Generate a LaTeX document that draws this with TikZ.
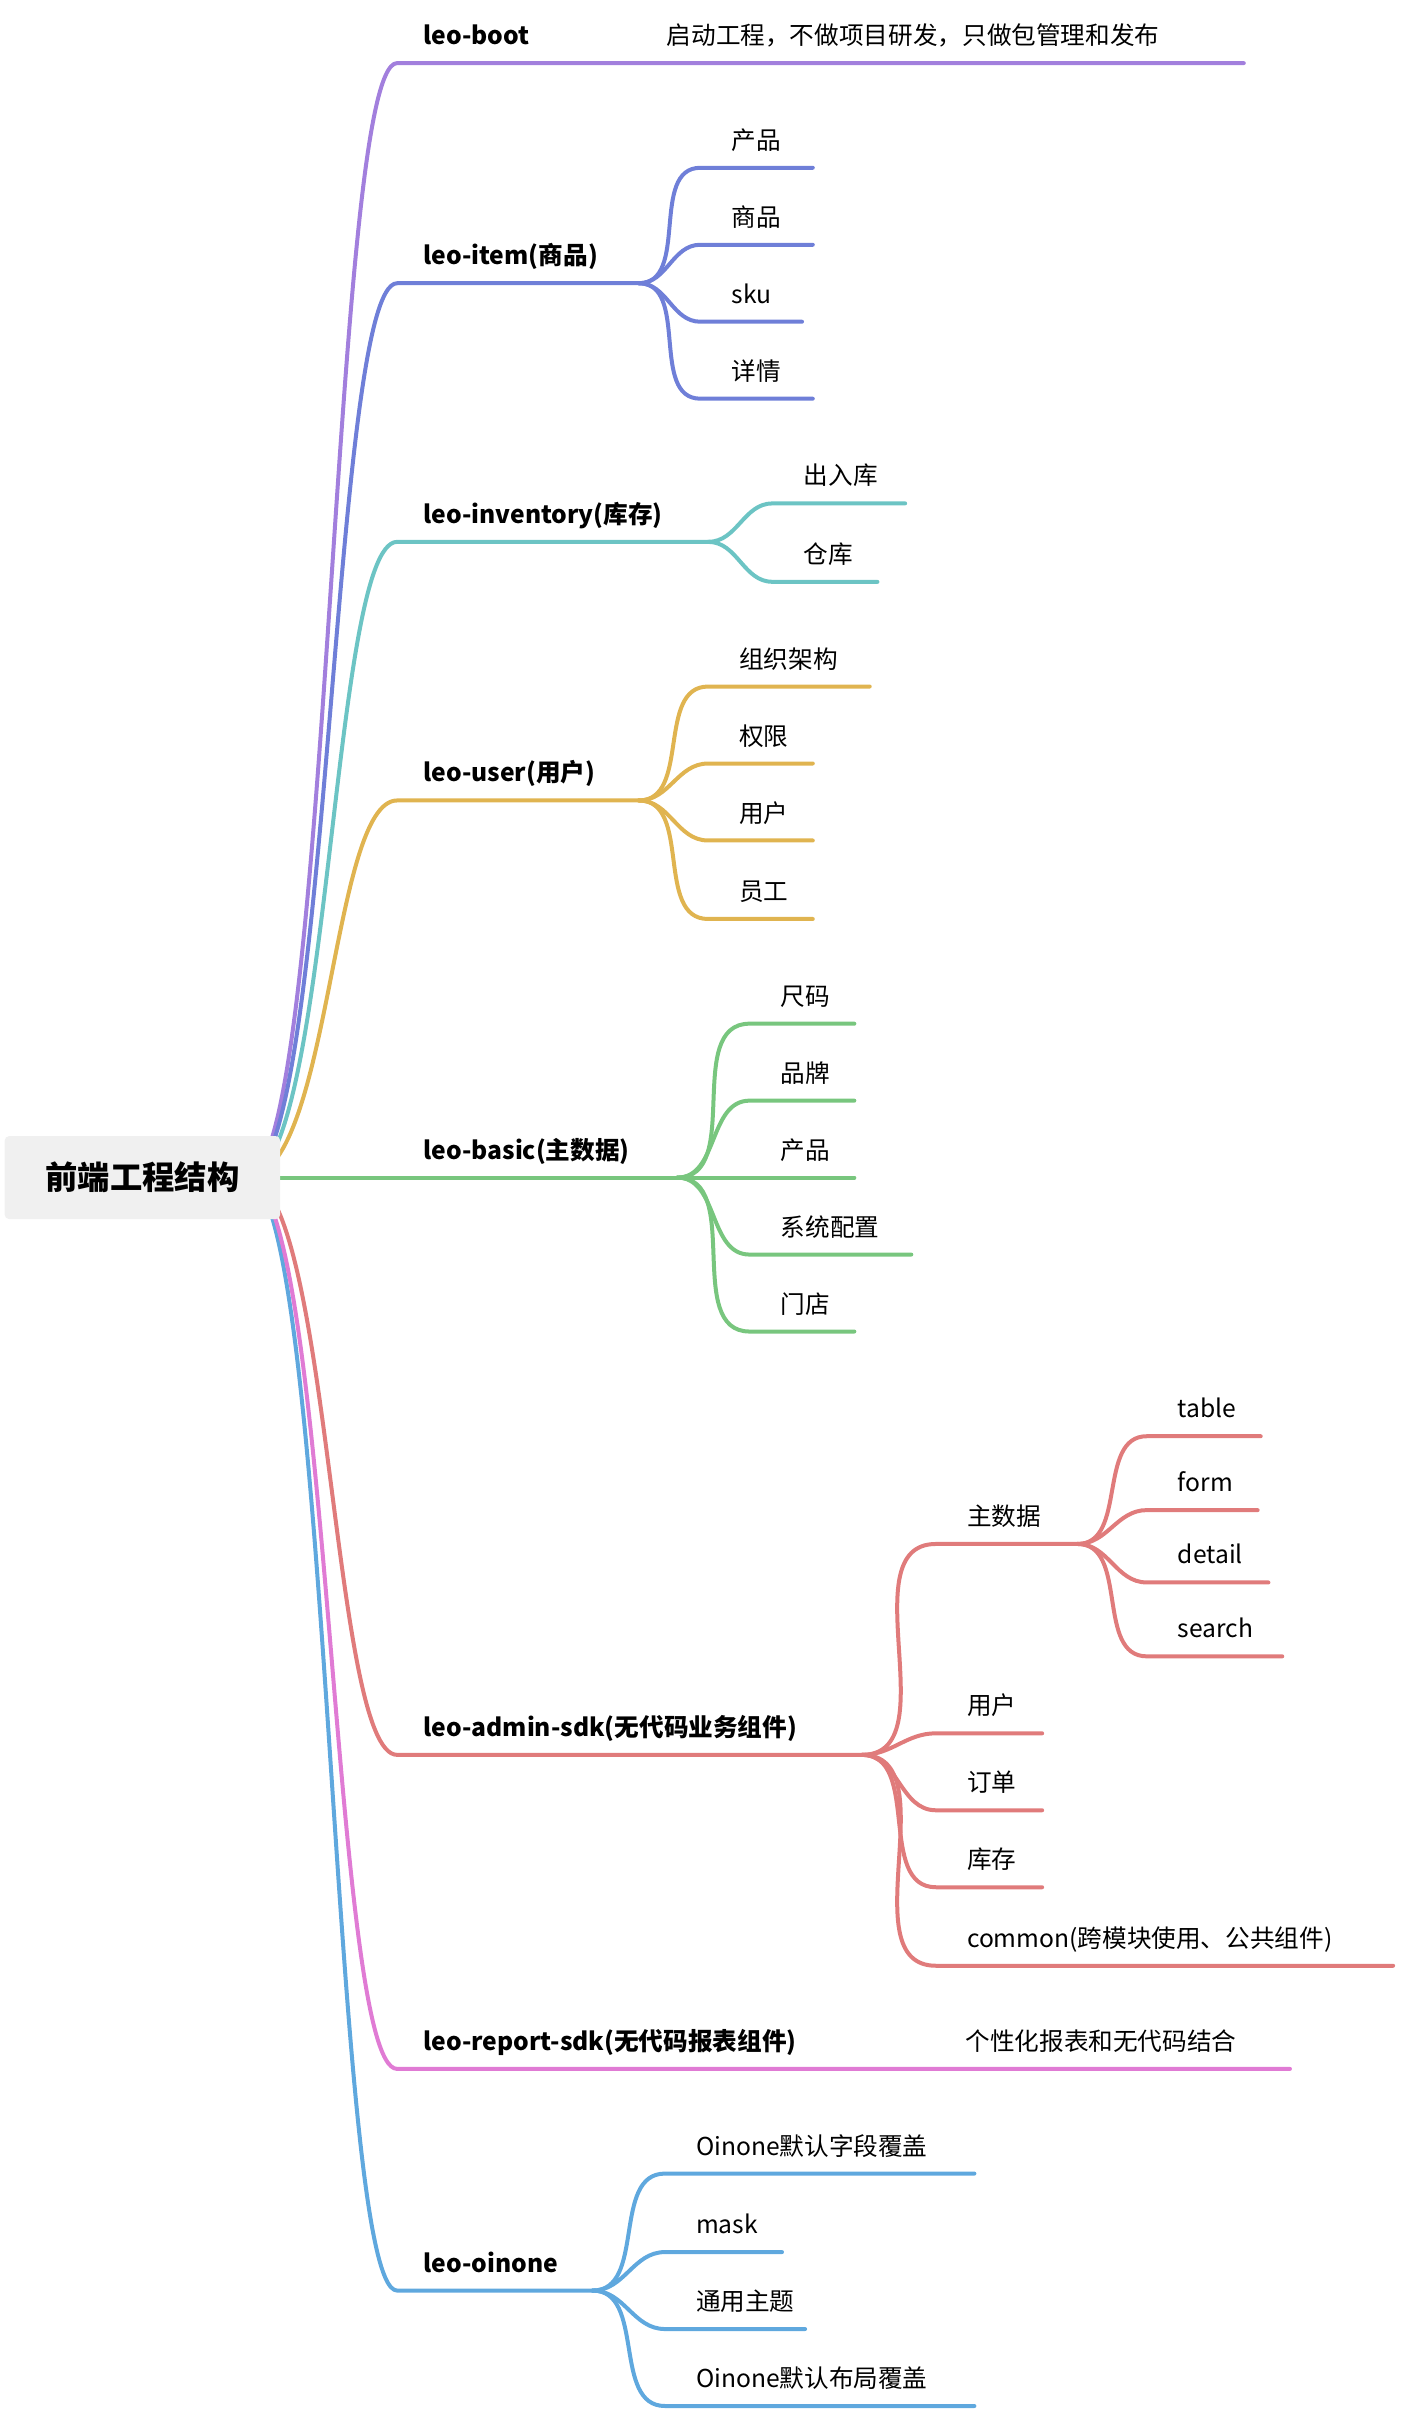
\documentclass[tikz,border=0pt]{standalone}
\usepackage{fontspec}
\setmainfont{Noto Sans CJK SC}
\definecolor{cboot}{HTML}{A27FDD}
\definecolor{citem}{HTML}{6F7FD8}
\definecolor{cinv}{HTML}{6CC4C4}
\definecolor{cuser}{HTML}{E0B450}
\definecolor{cbasic}{HTML}{78C67E}
\definecolor{cadmin}{HTML}{E07B7B}
\definecolor{creport}{HTML}{E07BD4}
\definecolor{coin}{HTML}{5FA8DE}
\tikzset{
  lbl/.style={anchor=base west, inner sep=0pt, font=\fontsize{16}{18}\selectfont},
  toplbl/.style={lbl, font=\fontsize{16}{18}\selectfont\bfseries},
  wire/.style={line width=2.6pt, line cap=round}
}
% #1 colour, #2 from node, #3 start x, #4 y, #5 end x, #6 name, #7 text, #8 label style
\newcommand\twig[8]{%
  \coordinate (#6s) at (#3,#4);
  \coordinate (#6e) at (#5,#4);
  \node[#8] (#6) at (#3+20,#4-12) {#7};
  \draw[wire, #1] (#2) to[out=0, in=180] (#6s) -- (#6e);
}
% branch from the root: colour, y, end x, name, text
\newcommand\bough[5]{%
  \coordinate (#4s) at (258,#2);
  \coordinate (#4e) at (#3,#2);
  \node[toplbl] (#4) at (275,#2-12) {#5};
  \draw[wire, #1] (r) .. controls (215,765) and (215,#2) .. (#4s) -- (#4e);
}
\begin{document}
\begin{tikzpicture}[x=1pt, y=-1pt]
\useasboundingbox (0,0) rectangle (912,1576);
\coordinate (r) at (160,765);
% level one
\bough{cboot}{41}{808}{boot}{leo-boot}
\node[lbl] (bootd) at (433,29) {启动工程，不做项目研发，只做包管理和发布};
\bough{citem}{184}{415}{item}{leo-item(商品)}
\bough{cinv}{352}{460}{inv}{leo-inventory(库存)}
\bough{cuser}{520}{415}{user}{leo-user(用户)}
\bough{coin}{1488}{385}{oin}{leo-oinone}
\bough{creport}{1344}{838}{report}{leo-report-sdk(无代码报表组件)}
\node[lbl] (reportd) at (627,1332) {个性化报表和无代码结合};
\bough{cadmin}{1140}{560}{admin}{leo-admin-sdk(无代码业务组件)}
\coordinate (bs) at (182,765); \coordinate (be) at (440,765);
\node[toplbl] (basic) at (275,753) {leo-basic(主数据)};
\draw[wire, cbasic] (bs) -- (be);
\node[fill=gray!12, rounded corners=3pt, minimum width=179pt, minimum height=54pt, font=\fontsize{21}{24}\selectfont\bfseries] (root) at (92.5,765) {前端工程结构};
% item
\twig{citem}{iteme}{455}{109}{528}{i1}{产品}{lbl}
\twig{citem}{iteme}{455}{159}{528}{i2}{商品}{lbl}
\twig{citem}{iteme}{455}{209}{521}{i3}{sku}{lbl}
\twig{citem}{iteme}{455}{259}{528}{i4}{详情}{lbl}
% inventory
\twig{cinv}{inve}{502}{327}{588}{v1}{出入库}{lbl}
\twig{cinv}{inve}{502}{378}{570}{v2}{仓库}{lbl}
% user
\twig{cuser}{usere}{460}{446}{565}{u1}{组织架构}{lbl}
\twig{cuser}{usere}{460}{496}{528}{u2}{权限}{lbl}
\twig{cuser}{usere}{460}{546}{528}{u3}{用户}{lbl}
\twig{cuser}{usere}{460}{597}{528}{u4}{员工}{lbl}
% basic
\twig{cbasic}{be}{487}{665}{555}{b1}{尺码}{lbl}
\twig{cbasic}{be}{487}{715}{555}{b2}{品牌}{lbl}
\twig{cbasic}{be}{487}{765}{555}{b3}{产品}{lbl}
\twig{cbasic}{be}{487}{815}{592}{b4}{系统配置}{lbl}
\twig{cbasic}{be}{487}{865}{555}{b5}{门店}{lbl}
% admin
\twig{cadmin}{admine}{608}{1003}{700}{a1}{主数据}{lbl}
\twig{cadmin}{admine}{608}{1126}{677}{a2}{用户}{lbl}
\twig{cadmin}{admine}{608}{1176}{677}{a3}{订单}{lbl}
\twig{cadmin}{admine}{608}{1226}{677}{a4}{库存}{lbl}
\twig{cadmin}{admine}{608}{1277}{905}{a5}{common(跨模块使用、公共组件)}{lbl}
\twig{cadmin}{a1e}{745}{933}{819}{m1}{table}{lbl}
\twig{cadmin}{a1e}{745}{981}{817}{m2}{form}{lbl}
\twig{cadmin}{a1e}{745}{1028}{824}{m3}{detail}{lbl}
\twig{cadmin}{a1e}{745}{1076}{833}{m4}{search}{lbl}
% oinone
\twig{coin}{oine}{432}{1412}{633}{o1}{Oinone默认字段覆盖}{lbl}
\twig{coin}{oine}{432}{1463}{508}{o2}{mask}{lbl}
\twig{coin}{oine}{432}{1513}{523}{o3}{通用主题}{lbl}
\twig{coin}{oine}{432}{1563}{633}{o4}{Oinone默认布局覆盖}{lbl}
\end{tikzpicture}
\end{document}
